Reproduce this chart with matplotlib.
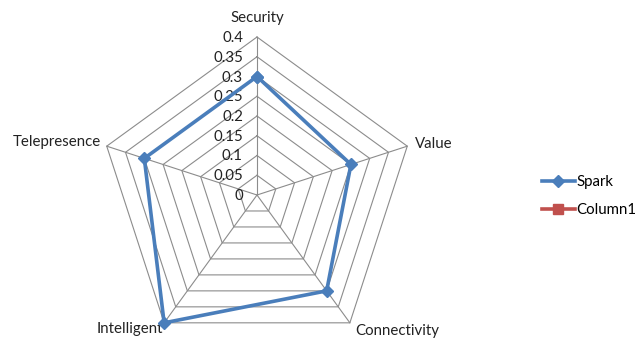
import numpy as np
import matplotlib
matplotlib.use("Agg")
import matplotlib.pyplot as plt

plt.rcParams['font.family'] = ['Lato', 'DejaVu Sans']

categories = ["Security", "Value", "Connectivity", "Intelligent", "Telepresence"]
spark = [0.30, 0.25, 0.30, 0.40, 0.30]
column1 = []
r_ticks = [0, 0.05, 0.1, 0.15, 0.2, 0.25, 0.3, 0.35, 0.4]
r_tick_labels = ["0", "0.05", "0.1", "0.15", "0.2", "0.25", "0.3", "0.35", "0.4"]

W, H = 640, 340
fig = plt.figure(figsize=(W / 100, H / 100), dpi=100)
cx, cy, R = 257, 195, 158
ax = fig.add_axes([(cx - R) / W, (H - cy - R) / H, 2 * R / W, 2 * R / H], projection='polar')
ax.set_theta_offset(np.pi / 2)
ax.set_theta_direction(-1)
ax.set_ylim(0, 0.4)
ax.grid(False)
ax.spines['polar'].set_visible(False)
ax.set_xticks([])
ax.set_yticks([])
ax.patch.set_alpha(0)

n = len(categories)
theta = np.linspace(0, 2 * np.pi, n, endpoint=False)
theta_c = np.append(theta, theta[0])

grid_col = '#8c8c8c'
for lv in r_ticks[1:]:
    ax.plot(theta_c, [lv] * (n + 1), color=grid_col, lw=0.8, clip_on=False, zorder=1)
for t in theta:
    ax.plot([t, t], [0, r_ticks[-1]], color=grid_col, lw=0.8, clip_on=False, zorder=1)

fs = 10.8
# radial tick labels
for lv, lab in zip(r_ticks, r_tick_labels):
    ax.annotate(lab, xy=(0, lv), xytext=(-14, -1), textcoords='offset pixels',
                ha='right', va='center', fontsize=fs, color='#222222', annotation_clip=False)

# category labels
offsets = [((0, 19), 'center', 'center'),
           ((8, 2), 'left', 'center'),
           ((5, -8), 'left', 'center'),
           ((-1, -6), 'right', 'center'),
           ((-6, 4), 'right', 'center')]
for t, lab, (off, ha, va) in zip(theta, categories, offsets):
    ax.annotate(lab, xy=(t, 0.4), xytext=off, textcoords='offset pixels',
                ha=ha, va=va, fontsize=fs, color='#222222', annotation_clip=False)

blue = '#4A7EBB'
red = '#C0504D'
sp = spark + [spark[0]]
ax.plot(theta_c, sp, color=blue, lw=2.6, marker='D', markersize=6, clip_on=False,
        zorder=3, label='Spark')
ax.plot(theta[:len(column1)], column1, color=red, lw=2.6, marker='s', markersize=6.5,
        label='Column1')

fig.legend(loc='center left', bbox_to_anchor=(528 / W, 1 - 196 / H), frameon=False,
           fontsize=fs, handlelength=2.2, handletextpad=0.1, labelspacing=0.95)

fig.savefig('out.png', dpi=100)
